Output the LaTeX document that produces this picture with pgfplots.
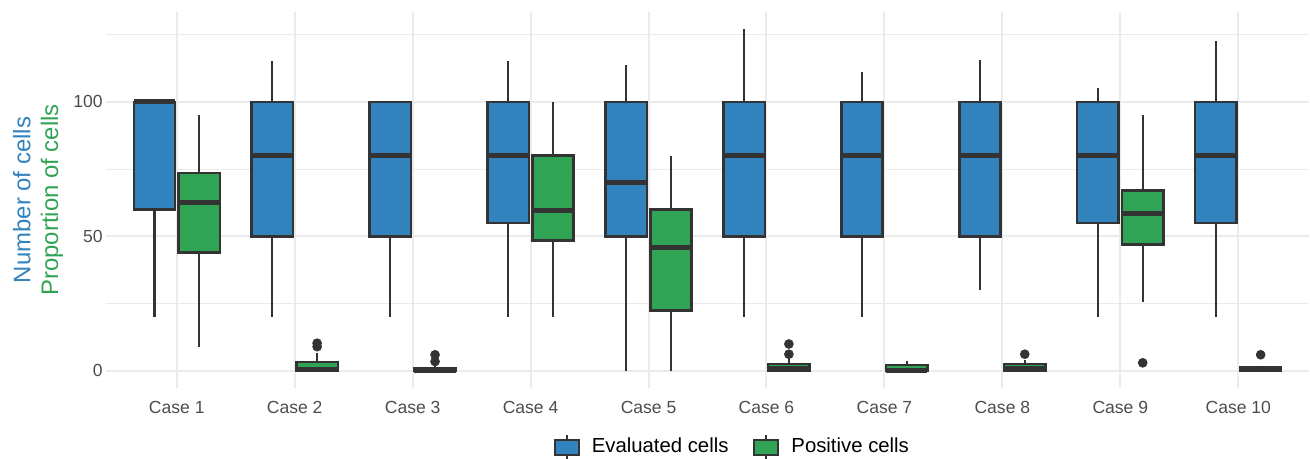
\documentclass[border=0pt]{standalone}
\usepackage{fontspec}
\setmainfont{Liberation Sans}
\usepackage{pgfplots}
\pgfplotsset{compat=1.18}
\usepgfplotslibrary{statistics}
\definecolor{myblue}{HTML}{3182BD}
\definecolor{mygreen}{HTML}{31A354}
\definecolor{darkc}{HTML}{333333}
\definecolor{gridc}{HTML}{EBEBEB}
\definecolor{ticktext}{HTML}{4D4D4D}
\pgfplotsset{
  bx/.style n args={6}{
    boxplot prepared={draw position=#1, lower whisker=#2, lower quartile=#3,
      median=#4, upper quartile=#5, upper whisker=#6, box extend=0.35, whisker extend=0,
      draw direction=y},
    draw=darkc, line width=1.2bp, forget plot,
    boxplot/every median/.style={line width=2.5bp}},
  outl/.style={only marks, mark=*, mark size=2.2bp, color=darkc, forget plot},
}
\begin{document}
\begin{tikzpicture}
\begin{axis}[
  scale only axis, width=601.5bp, height=188bp,
  xmin=0.4, xmax=10.6, ymin=-6.35, ymax=133.35,
  boxplot/draw direction=y,
  axis line style={draw=none},
  xtick={1,2,3,4,5,6,7,8,9,10},
  xticklabels={Case 1,Case 2,Case 3,Case 4,Case 5,Case 6,Case 7,Case 8,Case 9,Case 10},
  ytick={0,50,100}, minor ytick={25,75,125},
  grid=both,
  major grid style={draw=gridc, line width=1bp},
  minor grid style={draw=gridc, line width=0.5bp},
  major tick length=0pt, minor tick length=0pt,
  tick style={draw=none},
  /pgf/number format/assume math mode=true,
  ticklabel style={font=\fontsize{8.8}{10}\selectfont, text=ticktext},
  yticklabel style={inner sep=1.5bp},
  xticklabel style={yshift=-3bp},
  ylabel={\textcolor{myblue}{Number of cells}\\\textcolor{mygreen}{Proportion of cells}},
  ylabel style={at={(axis description cs:-0.0565,0.5)}, anchor=center, align=center, font=\fontsize{12}{14}\selectfont},
  legend style={at={(axis description cs:0.5215,-0.157)}, anchor=center, draw=none, fill=none,
    legend columns=2, font=\fontsize{10.2}{12}\selectfont,
    /tikz/every odd column/.append style={column sep=4bp},
    /tikz/every even column/.append style={column sep=10.5bp}},
  legend cell align=left,
]
\addplot[bx={0.81}{20}{60}{100}{100}{100}, fill=myblue] coordinates {};
\addplot[bx={1.19}{9}{44}{62.5}{73.5}{95}, fill=mygreen] coordinates {};
\addplot[bx={1.81}{20}{50}{80}{100}{115}, fill=myblue] coordinates {};
\addplot[bx={2.19}{0}{0}{0.5}{3.3}{6.5}, fill=mygreen] coordinates {};
\addplot[outl] coordinates {(2.19,9) (2.19,10.3)};
\addplot[bx={2.81}{20}{50}{80}{100}{100}, fill=myblue] coordinates {};
\addplot[bx={3.19}{0}{0}{0}{1}{2}, fill=mygreen] coordinates {};
\addplot[outl] coordinates {(3.19,3.5) (3.19,6)};
\addplot[bx={3.81}{20}{55}{80}{100}{115}, fill=myblue] coordinates {};
\addplot[bx={4.19}{20}{48.5}{59.5}{80}{100}, fill=mygreen] coordinates {};
\addplot[bx={4.81}{0}{50}{70}{100}{113.5}, fill=myblue] coordinates {};
\addplot[bx={5.19}{0}{22.5}{46}{60}{80}, fill=mygreen] coordinates {};
\addplot[bx={5.81}{20}{50}{80}{100}{127}, fill=myblue] coordinates {};
\addplot[bx={6.19}{0}{0}{1}{2.5}{4.5}, fill=mygreen] coordinates {};
\addplot[outl] coordinates {(6.19,6.2) (6.19,10)};
\addplot[bx={6.81}{20}{50}{80}{100}{111}, fill=myblue] coordinates {};
\addplot[bx={7.19}{0}{0}{0}{2.2}{3.7}, fill=mygreen] coordinates {};
\addplot[bx={7.81}{30}{50}{80}{100}{115.5}, fill=myblue] coordinates {};
\addplot[bx={8.19}{0}{0}{1}{2.5}{4}, fill=mygreen] coordinates {};
\addplot[outl] coordinates {(8.19,6.2)};
\addplot[bx={8.81}{20}{55}{80}{100}{105}, fill=myblue] coordinates {};
\addplot[bx={9.19}{25.5}{47}{58.5}{67}{95}, fill=mygreen] coordinates {};
\addplot[outl] coordinates {(9.19,3)};
\addplot[bx={9.81}{20}{55}{80}{100}{122.5}, fill=myblue] coordinates {};
\addplot[bx={10.19}{0}{0}{0.5}{1.5}{2}, fill=mygreen] coordinates {};
\addplot[outl] coordinates {(10.19,6)};
\addlegendimage{legend image code/.code={
  \draw[line width=1bp, darkc] (6bp,-6.25bp) -- (6bp,6.25bp);
  \draw[line width=1bp, draw=darkc, fill=myblue] (0bp,-3.75bp) rectangle (12bp,3.75bp);}}
\addlegendentry{Evaluated cells}
\addlegendimage{legend image code/.code={
  \draw[line width=1bp, darkc] (6bp,-6.25bp) -- (6bp,6.25bp);
  \draw[line width=1bp, draw=darkc, fill=mygreen] (0bp,-3.75bp) rectangle (12bp,3.75bp);}}
\addlegendentry{Positive cells}
\end{axis}
\pgfresetboundingbox
\path (-53bp,-35.5bp) rectangle (602bp,194bp);
\end{tikzpicture}
\end{document}
